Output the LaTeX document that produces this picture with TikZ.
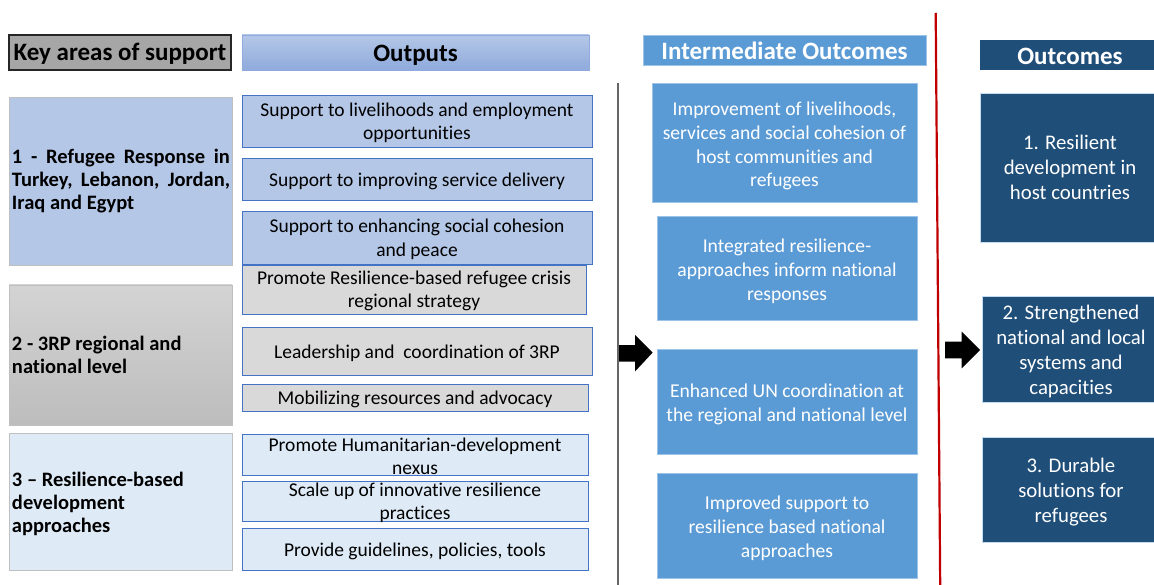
\documentclass[tikz,border=0pt]{standalone}
\usepackage{fontspec}
\setmainfont[Ligatures={NoCommon}]{Carlito}
\definecolor{keygray}{HTML}{A6A6A6}
\definecolor{paleblue}{HTML}{B4C7E7}
\definecolor{midblue}{HTML}{8FAADC}
\definecolor{edgeblue}{HTML}{4472C4}
\definecolor{lightgray}{HTML}{D9D9D9}
\definecolor{icyblue}{HTML}{DEEBF7}
\definecolor{skyblue}{HTML}{5B9BD5}
\definecolor{skyedge}{HTML}{9DC3E6}
\definecolor{navy}{HTML}{1F4E79}
\definecolor{redline}{HTML}{C00000}
% fixed-size cell: [downward shift], width, height (pt), contents vertically centred
\newcommand\cellbx[4][0]{\parbox[c][#3pt][c]{#2pt}{\vspace*{#1pt}#4\par\vspace*{-#1pt}}}
% centred lines nudged a little to the right
\newcommand\offcentre{\centering\leftskip=6pt plus 1fil\relax}
\begin{document}
\begin{tikzpicture}[x=1pt,y=-1pt,
  cell/.style={inner sep=0pt,outer sep=0pt,anchor=north west},
  headfont/.style={font=\fontsize{25}{28}\selectfont\bfseries},
  keyfont/.style={font=\fontsize{20.5}{23}\selectfont\bfseries},
  outfont/.style={font=\fontsize{19.5}{23.5}\selectfont},
  midfont/.style={font=\fontsize{19.6}{23.8}\selectfont,text=white},
  endfont/.style={font=\fontsize{20.8}{24.8}\selectfont,text=white},
  keyhead/.style={cell,headfont,fill=keygray,draw=black!85,line width=1.2pt},
  outhead/.style={cell,headfont,top color=paleblue,bottom color=midblue,draw=midblue,line width=0.9pt},
  midhead/.style={cell,headfont,fill=skyblue,draw=skyedge,line width=0.6pt,text=white},
  endhead/.style={cell,headfont,fill=navy,text=white},
  keybox/.style={cell,keyfont,draw=black!25,line width=0.8pt},
  outbox/.style={cell,outfont,draw=edgeblue,line width=0.8pt},
  midbox/.style={cell,midfont,fill=skyblue,draw=skyedge,line width=0.6pt},
  endbox/.style={cell,endfont,fill=navy,draw=skyedge!60,line width=0.5pt},
  blockarrow/.style={fill=black}
]
\useasboundingbox (0,0) rectangle (1154,585);

% column headers
\node[keyhead] (kh) at (9,35) {\cellbx[1]{222}{35}{\centering Key areas of support}};
\node[outhead] (oh) at (242,35) {\cellbx[2.5]{347}{35}{\centering Outputs}};
\node[midhead] (ih) at (643,35) {\cellbx[1]{283}{30}{\centering Intermediate Outcomes}};
\node[endhead] (rh) at (980,40) {\cellbx[1.5]{174}{30}{\offcentre Outcomes}};

% key areas of support
\node[keybox,fill=paleblue] (k1) at (9,97)
  {\cellbx{223}{168}{\leftskip=3pt\rightskip=2pt 1 - Refugee Response in\linebreak Turkey, Lebanon, Jordan,\linebreak Iraq and Egypt}};
\node[keybox,top color=black!17,bottom color=black!26] (k2) at (9,285)
  {\cellbx{223}{140}{\leftskip=3pt 2 - 3RP regional and\\ national level}};
\node[keybox,fill=icyblue] (k3) at (9,433)
  {\cellbx[2]{223}{137}{\leftskip=3pt 3 -- Resilience-based\\ development\\ approaches}};

% outputs
\node[outbox,fill=paleblue] (o1) at (242,95) {\cellbx[2]{350}{52}{\centering Support to livelihoods and employment\\ opportunities}};
\node[outbox,fill=paleblue] (o2) at (242,158) {\cellbx[2]{350}{42}{\centering Support to improving service delivery}};
\node[outbox,fill=paleblue] (o3) at (242,211) {\cellbx[2]{350}{53}{\centering Support to enhancing social cohesion\\ and peace}};
\node[outbox,fill=lightgray] (o4) at (242,265) {\cellbx[1.5]{344}{49}{\centering Promote Resilience-based refugee crisis\\ regional strategy}};
\node[outbox,fill=lightgray] (o5) at (242,327) {\cellbx[2]{350}{48}{\centering Leadership and\ \ coordination of 3RP}};
\node[outbox,fill=lightgray] (o6) at (242,384) {\cellbx[2]{346}{27}{\centering Mobilizing resources and advocacy}};
\node[outbox,fill=icyblue] (o7) at (242,434) {\cellbx[2]{346}{41}{\centering Promote Humanitarian-development\\ nexus}};
\node[outbox,fill=icyblue] (o8) at (242,481) {\cellbx[2]{346}{40}{\centering Scale up of innovative resilience\\ practices}};
\node[outbox,fill=icyblue] (o9) at (242,528) {\cellbx[2]{346}{42}{\centering Provide guidelines, policies, tools}};

% intermediate outcomes
\node[midbox] (i1) at (652,83) {\cellbx[3.5]{265}{119}{\centering Improvement of livelihoods,\\ services and social cohesion of\\ host communities and\\ refugees}};
\node[midbox] (i2) at (657,216) {\cellbx[3]{260}{104}{\centering Integrated resilience-\\ approaches inform national\\ responses}};
\node[midbox] (i3) at (657,349) {\cellbx[2.5]{260}{105}{\centering Enhanced UN coordination at\\ the regional and national level}};
\node[midbox] (i4) at (657,473) {\cellbx[3]{260}{105}{\centering Improved support to\\ resilience based national\\ approaches}};

% outcomes
\node[endbox] (r1) at (980,93) {\cellbx{174}{149}{\offcentre 1. Resilient\\ development in\\ host countries}};
\node[endbox] (r2) at (982,296) {\cellbx[2.5]{172}{106}{\offcentre 2. Strengthened\\ national and local\\ systems and\\ capacities}};
\node[endbox] (r3) at (982,437) {\cellbx[2.5]{172}{105}{\offcentre 3. Durable\\ solutions for\\ refugees}};

% divider lines
\coordinate (gtop) at (618,83);
\coordinate (gbot) at (618,585);
\draw[black!60,line width=1.2pt] (gtop) -- (gbot);
\coordinate (rtop) at (935.7,13);
\coordinate (rbot) at (940.2,585);
\draw[redline,line width=2.2pt] (rtop) -- (rbot);

% block arrows
\fill[blockarrow] (619,345) -- (635,345) -- (635,335) -- (652.7,352.5) -- (635,371.5)
  -- (635,361.5) -- (619,361.5) -- cycle;
\fill[blockarrow] (945,341.7) -- (961.7,341.7) -- (961.7,331.7) -- (980,350) -- (961.7,368.3)
  -- (961.7,358.3) -- (945,358.3) -- cycle;
\end{tikzpicture}
\end{document}
